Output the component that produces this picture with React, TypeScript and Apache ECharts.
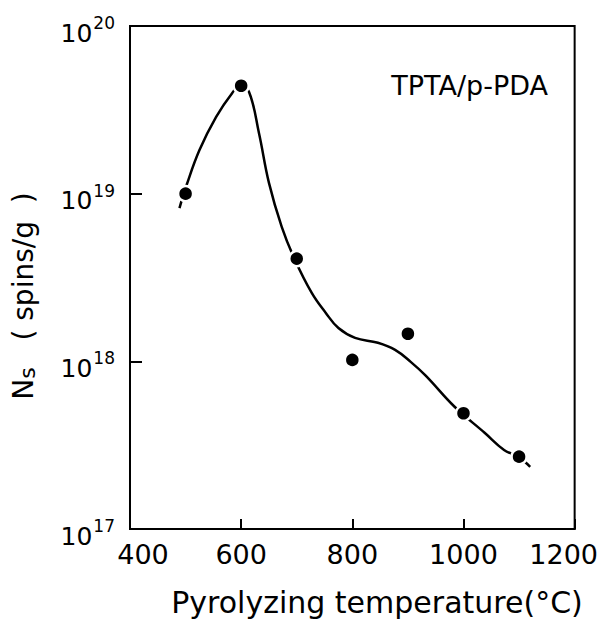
import React, { useEffect, useRef } from "react";
import * as echarts from "echarts";

// Measured data points (temperature °C, spin density spins/g)
const pointTemps = [500, 600, 700, 800, 900, 1000, 1100];
const pointValues = [1.0e19, 4.4e19, 4.1e18, 1.02e18, 1.46e18, 4.9e17, 2.7e17];

// Hand-drawn guide curve
const curveTemps = [489, 502, 525, 555, 584, 598, 614, 632, 650, 673, 696, 727, 752, 775, 805, 846, 877, 905, 932, 984, 1038, 1073, 1098, 1120];
const curveValues = [8.2e18, 1.13e19, 1.82e19, 2.87e19, 3.99e19, 4.39e19, 4.05e19, 2.3e19, 1.16e19, 6.34e18, 4.08e18, 2.56e18, 1.95e18, 1.58e18, 1.38e18, 1.29e18, 1.17e18, 9.93e17, 8.22e17, 5.36e17, 3.75e17, 2.96e17, 2.7e17, 2.35e17];

const xTicks = [400, 600, 800, 1000, 1200];
const sampleLabel = "TPTA/p-PDA";
const xName = "Pyrolyzing temperature(°C)";

const FONT = "DejaVu Sans";

export default function App() {
  const ref = useRef<HTMLDivElement>(null);
  useEffect(() => {
    if (!ref.current) return;
    const chart = echarts.init(ref.current, undefined, { renderer: "svg" });
    chart.setOption({
      animation: false,
      backgroundColor: "#fff",
      grid: {
        left: 130,
        top: 26,
        right: 23,
        bottom: 90,
        show: true,
        borderColor: "#000",
        borderWidth: 2,
      },
      xAxis: {
        type: "value",
        min: xTicks[0],
        max: xTicks[xTicks.length - 1],
        interval: 200,
        splitLine: { show: false },
        axisLine: { show: true, lineStyle: { color: "#000", width: 2 } },
        axisTick: { show: true, inside: false, length: -10, lineStyle: { color: "#000", width: 2 } },
        axisLabel: {
          margin: 12,
          color: "#000",
          fontFamily: FONT,
          fontSize: 27,
          formatter: (v: number) => {
            if (v === 400) return "{l|" + v + "}";
            if (v === 1200) return "{r|" + v + "}";
            return "{n|" + v + "}";
          },
          rich: {
            n: { fontFamily: FONT, fontSize: 27, color: "#000" },
            l: { fontFamily: FONT, fontSize: 27, color: "#000", padding: [0, 0, 0, 26] },
            r: { fontFamily: FONT, fontSize: 27, color: "#000", padding: [0, 22, 0, 0] },
          },
        },
      },
      yAxis: {
        type: "log",
        logBase: 10,
        min: 1e17,
        max: 1e20,
        splitNumber: 3,
        splitLine: { show: false },
        axisLine: { show: true, lineStyle: { color: "#000", width: 2 } },
        axisTick: { show: true, inside: false, length: -12, lineStyle: { color: "#000", width: 2 } },
        axisLabel: {
          margin: 15,
          color: "#000",
          formatter: (v: number) => {
            const e = Math.round(Math.log10(v));
            return "{b|10}{s|" + e + "}";
          },
          rich: {
            b: { fontFamily: FONT, fontSize: 25, color: "#000", verticalAlign: "bottom", padding: [14, 0, 0, 0] },
            s: { fontFamily: FONT, fontSize: 17, color: "#000", verticalAlign: "bottom", padding: [0, 0, 14, 1] },
          },
        },
      },
      graphic: [
        {
          type: "text",
          right: 601 - 548,
          top: 72,
          style: { text: sampleLabel, fontFamily: FONT, fontSize: 27, fill: "#000" },
        },
        {
          type: "text",
          x: 377,
          y: 602,
          style: {
            text: xName,
            fontFamily: FONT,
            fontSize: 30,
            fill: "#000",
            align: "center",
            verticalAlign: "middle",
          },
        },
        {
          type: "text",
          x: 23,
          y: 296,
          rotation: Math.PI / 2,
          style: {
            text: "N{sub|s}   ( spins/g  )",
            fontFamily: FONT,
            fontSize: 28,
            fill: "#000",
            align: "center",
            verticalAlign: "middle",
            rich: {
              sub: { fontFamily: FONT, fontSize: 22, fill: "#000", padding: [8, 0, 0, 0] },
            },
          },
        },
      ],
      series: [
        {
          type: "line",
          data: curveTemps.map((t, i) => [t, curveValues[i]]),
          smooth: 0.4,
          showSymbol: false,
          lineStyle: { color: "#000", width: 2.5 },
          z: 2,
        },
        {
          type: "scatter",
          data: pointTemps.map((t, i) => [t, pointValues[i]]),
          symbol: "circle",
          symbolSize: 15,
          itemStyle: { color: "#000", opacity: 1, borderColor: "#fff", borderWidth: 2.5 },
          z: 3,
        },
      ],
    });
    return () => chart.dispose();
  }, []);
  return <div ref={ref} style={{ position: "fixed", left: 0, top: 0, width: 601, height: 619 }} />;
}
